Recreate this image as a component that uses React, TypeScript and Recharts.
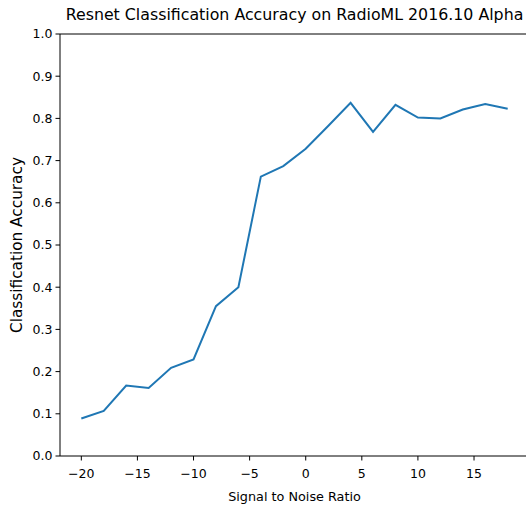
import { LineChart, Line, XAxis, YAxis, ReferenceLine, Label } from "recharts"

const snr = [-20, -18, -16, -14, -12, -10, -8, -6, -4, -2, 0, 2, 4, 6, 8, 10, 12, 14, 16, 18]
const accuracy = [
  0.089, 0.107, 0.167, 0.161, 0.209, 0.229, 0.355, 0.4, 0.662, 0.687, 0.728, 0.782, 0.837, 0.768,
  0.832, 0.802, 0.8, 0.821, 0.834, 0.823,
]
const xTicks = [-20, -15, -10, -5, 0, 5, 10, 15]
const yTicks = [0, 0.1, 0.2, 0.3, 0.4, 0.5, 0.6, 0.7, 0.8, 0.9, 1.0]

const data = snr.map((s, i) => ({ snr: s, acc: accuracy[i] }))

const font = "'DejaVu Sans', sans-serif"
const tickStyle = { fill: "#000", fontSize: 12.5, fontFamily: font }

const fmtX = (v: number) => (v < 0 ? "\u2212" + Math.abs(v) : String(v))

export default function App() {
  return (
    <div style={{ position: "absolute", left: 0, top: 0, width: 526, height: 508, overflow: "hidden", background: "#fff" }}>
      <div
        style={{
          position: "absolute",
          left: 0,
          width: 589,
          top: 5,
          textAlign: "center",
          fontFamily: font,
          fontSize: 15.8,
          color: "#000",
          whiteSpace: "nowrap",
        }}
      >
        Resnet Classification Accuracy on RadioML 2016.10 Alpha
      </div>
      <LineChart width={529} height={508} data={data} margin={{ top: 34, right: 0, left: 0, bottom: 0 }}>
        <XAxis
          dataKey="snr"
          type="number"
          domain={[-21.9, 19.9]}
          ticks={xTicks}
          tickFormatter={fmtX}
          allowDataOverflow
          height={52}
          stroke="#000"
          tickSize={4.5}
          tickMargin={9}
          tick={tickStyle}
        >
          <Label value="Signal to Noise Ratio" position="insideBottom" offset={7} style={{ ...tickStyle, fontSize: 12.8 }} />
        </XAxis>
        <YAxis
          type="number"
          domain={[0, 1]}
          ticks={yTicks}
          tickFormatter={(v: number) => v.toFixed(1)}
          width={60}
          stroke="#000"
          tickSize={4.5}
          tickMargin={3}
          tick={tickStyle}
        >
          <Label
            value="Classification Accuracy"
            angle={-90}
            position="insideLeft"
            offset={17}
            style={{ ...tickStyle, fontSize: 15.3, textAnchor: "middle" }}
          />
        </YAxis>
        <ReferenceLine y={1} stroke="#000" />
        <Line
          type="linear"
          dataKey="acc"
          stroke="#1f77b4"
          strokeWidth={2}
          dot={false}
          isAnimationActive={false}
        />
      </LineChart>
    </div>
  )
}
